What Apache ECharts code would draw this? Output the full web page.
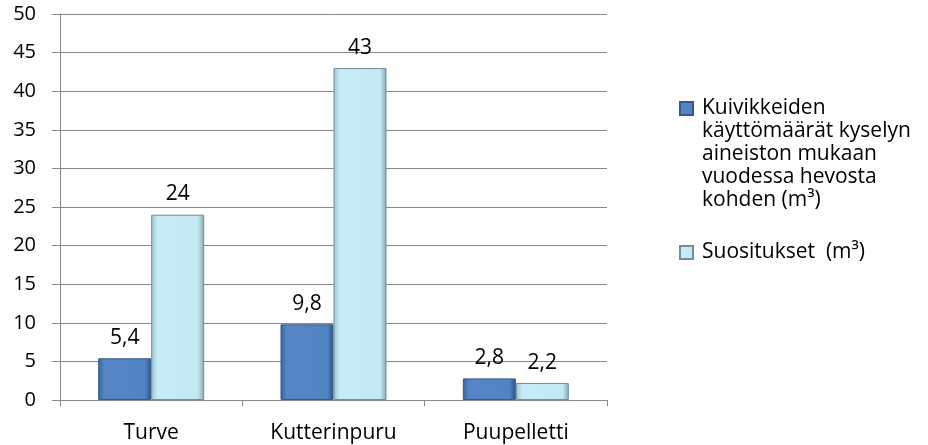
<!DOCTYPE html>
<html>
<head>
<meta charset="utf-8">
<script src="https://cdn.jsdelivr.net/npm/echarts@6/dist/echarts.min.js"></script>
<style>
    html, body { margin: 0; padding: 0; background: #fff; }
    #chart { width: 928px; height: 445px; }
</style>
</head>
<body>
<div id="chart"></div>
<script>
    var categories = ['Turve', 'Kutterinpuru', 'Puupelletti']
    var seriesNames = ['Kuivikkeiden käyttömäärät kyselyn aineiston mukaan vuodessa hevosta kohden (m³)', 'Suositukset  (m³)']
    var legendLabels = ['Kuivikkeiden\nkäyttömäärät kyselyn\naineiston mukaan\nvuodessa hevosta\nkohden (m³)', 'Suositukset  (m³)']
    var kaytto = [5.4, 9.8, 2.8]
    var suositus = [24, 43, 2.2]

    var font = 'Open Sans'
    var chart = echarts.init(document.getElementById('chart'))

    var labelOpt = {
        show: true,
        position: 'top',
        distance: 10,
        color: '#000',
        fontFamily: font,
        fontSize: 21,
        formatter: function (p) { return String(p.value).replace('.', ',') }
    }

    // legend text is centred on its icon; blank lines above a multi-line
    // entry keep the icon beside the first line
    function legendText (name) {
        var text = legendLabels[seriesNames.indexOf(name)]
        var extra = text.split('\n').length - 1
        return new Array(extra + 1).join('\n') + text
    }

    chart.setOption({
        animation: false,
        grid: { left: 60, right: 321, top: 14, bottom: 45 },
        legend: {
            orient: 'vertical',
            left: 674,
            top: 0,
            itemWidth: 13,
            itemHeight: 13,
            itemGap: 29,
            icon: 'rect',
            textStyle: {
                fontFamily: font,
                fontSize: 21,
                color: '#000',
                lineHeight: 23,
                padding: [0, 0, 0, 4]
            },
            formatter: legendText
        },
        xAxis: {
            type: 'category',
            data: categories,
            axisLine: { lineStyle: { color: '#868686' } },
            axisTick: { show: true, length: 6, lineStyle: { color: '#868686' } },
            axisLabel: { color: '#000', fontFamily: font, fontSize: 21, margin: 23 }
        },
        yAxis: {
            type: 'value',
            min: 0,
            max: 50,
            interval: 5,
            axisLine: { show: true, lineStyle: { color: '#868686' } },
            axisTick: { show: true, length: 8, lineStyle: { color: '#868686' } },
            axisLabel: { color: '#000', fontFamily: font, fontSize: 20, margin: 24 },
            splitLine: { lineStyle: { color: '#868686' } }
        },
        series: [
            {
                name: seriesNames[0],
                type: 'bar',
                data: kaytto,
                barWidth: 53,
                barGap: '0%',
                label: labelOpt,
                itemStyle: {
                    borderColor: '#34598a',
                    borderWidth: 1,
                    color: new echarts.graphic.LinearGradient(0, 0, 1, 0, [
                        { offset: 0, color: '#3b649b' },
                        { offset: 0.12, color: '#5686c6' },
                        { offset: 0.88, color: '#5283c3' },
                        { offset: 1, color: '#2f5585' }
                    ])
                }
            },
            {
                name: seriesNames[1],
                type: 'bar',
                data: suositus,
                barWidth: 53,
                label: labelOpt,
                itemStyle: {
                    borderColor: '#6f8f9c',
                    borderWidth: 1,
                    color: new echarts.graphic.LinearGradient(0, 0, 1, 0, [
                        { offset: 0, color: '#9dc3d0' },
                        { offset: 0.12, color: '#c8ecf6' },
                        { offset: 0.88, color: '#c4e9f3' },
                        { offset: 1, color: '#85a6b2' }
                    ])
                }
            }
        ]
    })
</script>
</body>
</html>
